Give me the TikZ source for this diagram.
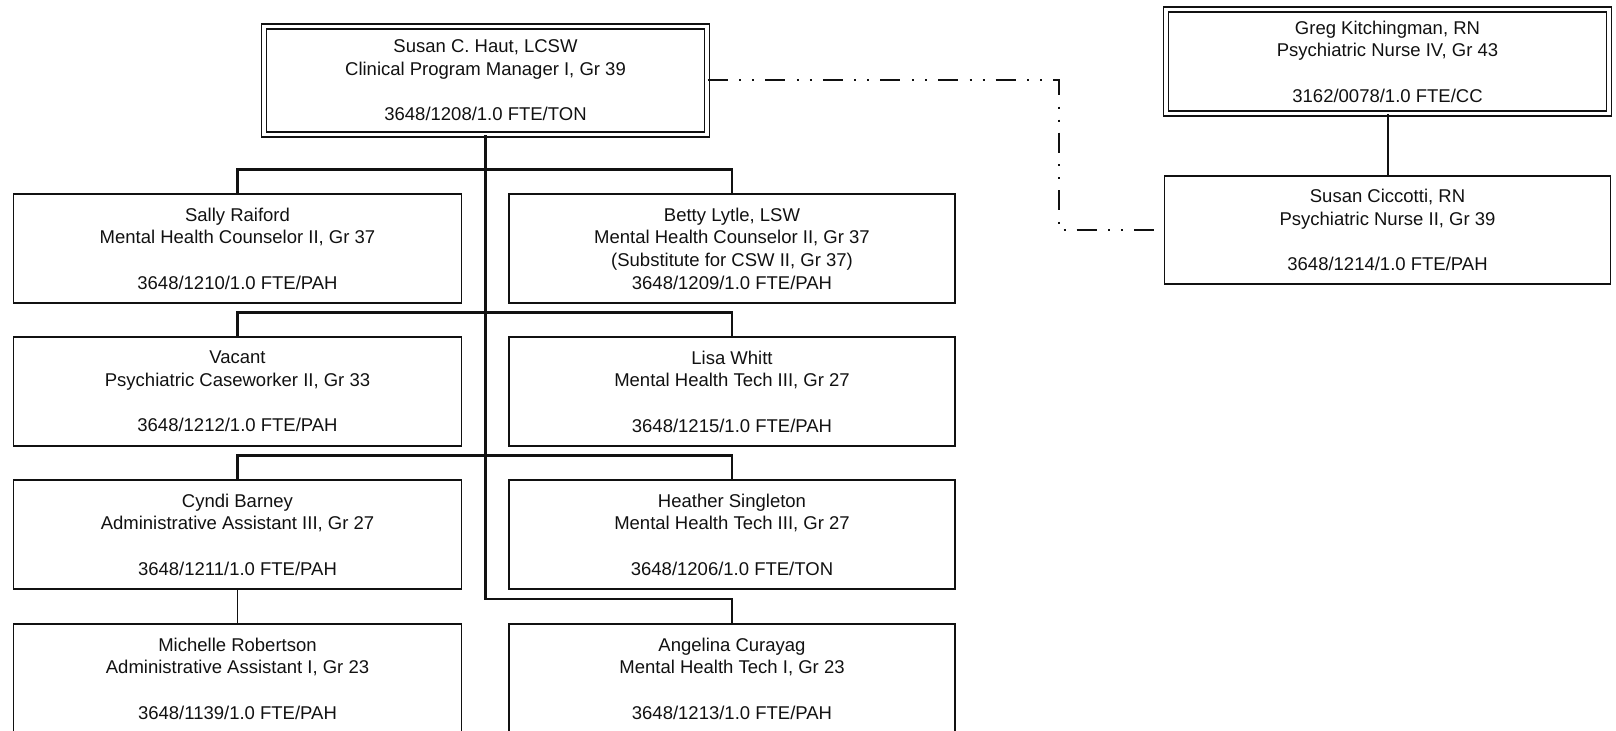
\documentclass[tikz,border=0pt]{standalone}
\usepackage{fontspec}
\setmainfont{Liberation Sans}
\usetikzlibrary{positioning}
\definecolor{ink}{HTML}{111111}
\tikzset{
  staff/.style={draw=ink,line width=0.55pt,minimum width=224pt,minimum height=54.5pt,inner sep=0pt,align=center,text=ink,font=\fontsize{9.25}{11.35}\selectfont},
  headbox/.style={staff,double,double distance=1.9pt,line width=0.6pt,minimum width=221.5pt,minimum height=54pt},
  tie/.style={draw=ink,line width=1.2pt},
  thintie/.style={draw=ink,line width=0.7pt},
  dashdot/.style={draw=ink,line width=1pt,dash pattern=on 10pt off 5.8pt on 1pt off 5.5pt on 1pt off 5.5pt}
}
\newcommand{\gap}{\\[11.35pt]}

\begin{document}
\begin{tikzpicture}[x=0.5pt,y=-0.5pt]
\useasboundingbox (0,0) rectangle (1616,731);
% manager and nurses
\node[headbox] (haut) at (485.5,80.5) {Susan C. Haut, LCSW\\Clinical Program Manager I, Gr 39\gap 3648/1208/1.0 FTE/TON};
\node[headbox,minimum height=52pt] (greg) at (1387.5,61.5) {Greg Kitchingman, RN\\Psychiatric Nurse IV, Gr 43\gap 3162/0078/1.0 FTE/CC};
\node[staff,minimum width=223pt,minimum height=54pt] (ciccotti) at (1387.5,230) {Susan Ciccotti, RN\\Psychiatric Nurse II, Gr 39\gap 3648/1214/1.0 FTE/PAH};
% staff rows
\node[staff] (sally) at (237.5,248.5) {Sally Raiford\\Mental Health Counselor II, Gr 37\gap 3648/1210/1.0 FTE/PAH};
\node[staff,minimum width=223pt] (betty) at (732,248.5) {Betty Lytle, LSW\\Mental Health Counselor II, Gr 37\\(Substitute for CSW II, Gr 37)\\3648/1209/1.0 FTE/PAH};
\node[staff] (vacant) at (237.5,391.5) {Vacant\\Psychiatric Caseworker II, Gr 33\gap 3648/1212/1.0 FTE/PAH};
\node[staff,minimum width=223pt] (lisa) at (732,391.5) {Lisa Whitt\\Mental Health Tech III, Gr 27\gap 3648/1215/1.0 FTE/PAH};
\node[staff] (cyndi) at (237.5,534.5) {Cyndi Barney\\Administrative Assistant III, Gr 27\gap 3648/1211/1.0 FTE/PAH};
\node[staff,minimum width=223pt] (heather) at (732,534.5) {Heather Singleton\\Mental Health Tech III, Gr 27\gap 3648/1206/1.0 FTE/TON};
\node[staff] (michelle) at (237.5,678.5) {Michelle Robertson\\Administrative Assistant I, Gr 23\gap 3648/1139/1.0 FTE/PAH};
\node[staff,minimum width=223pt] (angelina) at (732,678.5) {Angelina Curayag\\Mental Health Tech I, Gr 23\gap 3648/1213/1.0 FTE/PAH};
% lines
\draw[tie] (haut.south) -- ++(0,464) -| (angelina.north);
\draw[tie] (sally.north) -- ++(0,-24) -| (betty.north);
\draw[tie] (vacant.north) -- ++(0,-24) -| (lisa.north);
\draw[tie] (cyndi.north) -- ++(0,-24) -| (heather.north);
\draw[thintie] (cyndi.south) -- (michelle.north);
\draw[tie,line width=1pt] (greg.south) -- (ciccotti.north);
\draw[dashdot] (haut.east) -- ++(351,0) |- (ciccotti.west);
\end{tikzpicture}
\end{document}
